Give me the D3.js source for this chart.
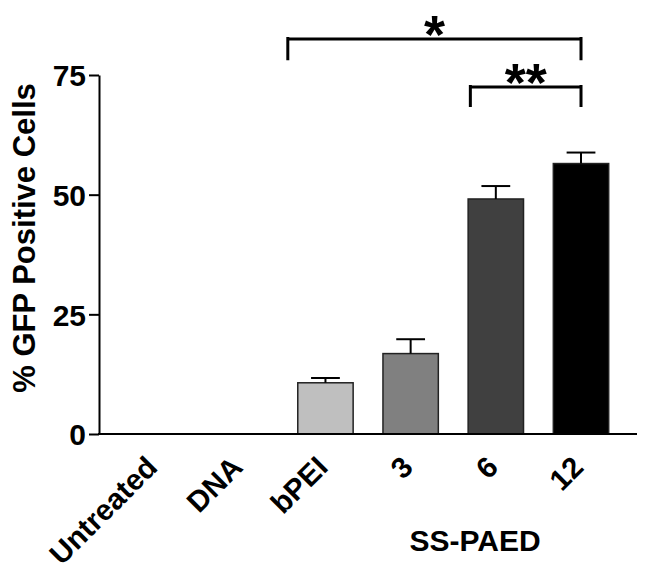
<!DOCTYPE html>
<html>
<head>
<meta charset="utf-8">
<script src="https://cdn.jsdelivr.net/npm/d3@7"></script>
<style>
    html, body { margin: 0; padding: 0; background: #fff; }
    text { font-family: "Liberation Sans", Arial, sans-serif; font-weight: bold; fill: #000; }
</style>
</head>
<body>
<div id="chart"></div>
<script>
'use strict';

const categories = ['Untreated', 'DNA', 'bPEI', '3', '6', '12'];
const values = [0, 0, 10.7, 16.8, 49.1, 56.5];
const errors = [0, 0, 1.0, 3.0, 2.7, 2.3];
const fills = ['#ffffff', '#ffffff', '#bfbfbf', '#808080', '#404040', '#000000'];
const yTicks = [0, 25, 50, 75];
// significance brackets: from/to category, offset as fraction of band, level on y
const brackets = [
    {from: 'bPEI', fromOff: -0.18, to: '12', toOff: 0.5, level: 82.5, drop: 4.4, label: '*'},
    {from: '6', fromOff: 0.04, to: '12', toOff: 0.5, level: 72.5, drop: 4.2, label: '**'}
];

(function(doc) {

    const width = 649;
    const height = 574;

    const svg = d3.select('#chart').append('svg')
        .attr('width', width)
        .attr('height', height);

    const x = d3.scaleBand()
        .domain(categories)
        .range([112.5, 623.6])
        .paddingInner(0.35)
        .paddingOuter(0.175);

    const y = d3.scaleLinear().domain([0, 75]).range([434, 75]);

    const data = categories.map((c, i) => ({cat: c, value: values[i], err: errors[i], fill: fills[i]}));

    // bars
    svg.selectAll('rect.bar')
        .data(data.filter((d) => d.value > 0)).enter().append('rect')
        .attr('class', 'bar')
        .attr('x', (d) => x(d.cat))
        .attr('y', (d) => y(d.value))
        .attr('width', x.bandwidth())
        .attr('height', (d) => y(0) - y(d.value))
        .attr('fill', (d) => d.fill)
        .attr('stroke', '#222')
        .attr('stroke-width', 1.5);

    // error bars (upper only)
    const errG = svg.append('g').attr('stroke', '#000').attr('stroke-width', 2);
    for (const d of data.filter((d) => d.err > 0)) {
        const cx = x(d.cat) + x.bandwidth() / 2;
        const capW = x.bandwidth() * 0.26;
        errG.append('line')
            .attr('x1', cx).attr('x2', cx)
            .attr('y1', y(d.value)).attr('y2', y(d.value + d.err));
        errG.append('line')
            .attr('x1', cx - capW).attr('x2', cx + capW)
            .attr('y1', y(d.value + d.err)).attr('y2', y(d.value + d.err));
    }

    // y axis
    const yAxis = svg.append('g')
        .attr('transform', 'translate(99, 0)')
        .call(d3.axisLeft(y).tickValues(yTicks).tickSize(10).tickPadding(3).tickSizeOuter(0));
    yAxis.select('.domain').attr('stroke-width', 2);
    yAxis.selectAll('.tick line').attr('stroke-width', 2);
    yAxis.selectAll('.tick text')
        .style('font-size', '30px')
        .style('font-family', '"Liberation Sans", Arial, sans-serif')
        .style('font-weight', 'bold')
        .attr('dy', '0.36em');

    // x axis line
    svg.append('line')
        .attr('x1', 98).attr('x2', 637)
        .attr('y1', y(0)).attr('y2', y(0))
        .attr('stroke', '#000')
        .attr('stroke-width', 2);

    // x labels
    svg.selectAll('text.xlab')
        .data(categories).enter().append('text')
        .attr('class', 'xlab')
        .attr('transform', (d) => `translate(${x(d) + x.bandwidth() / 2 + 4}, 469) rotate(-45)`)
        .attr('text-anchor', 'end')
        .style('font-size', '29.5px')
        .text((d) => d);

    svg.append('text')
        .attr('x', 475)
        .attr('y', 551)
        .attr('text-anchor', 'middle')
        .style('font-size', '30px')
        .text('SS-PAED');

    // y title
    svg.append('text')
        .attr('transform', 'translate(35, 238) rotate(-90)')
        .attr('text-anchor', 'middle')
        .style('font-size', '31px')
        .text('% GFP Positive Cells');

    // brackets
    for (const b of brackets) {
        const x1 = x(b.from) + x.bandwidth() * b.fromOff;
        const x2 = x(b.to) + x.bandwidth() * b.toOff;
        const yl = y(b.level);
        const yd = y(b.level - b.drop);
        svg.append('path')
            .attr('d', `M${x1},${yd}V${yl - 2}M${x1},${yl}H${x2}M${x2},${yl - 2}V${yd}`)
            .attr('fill', 'none')
            .attr('stroke', '#000')
            .attr('stroke-width', 3);
        svg.append('text')
            .attr('x', (x1 + x2) / 2)
            .attr('y', yl + 14)
            .attr('text-anchor', 'middle')
            .style('font-size', '54px')
            .text(b.label);
    }

}(document));
</script>
</body>
</html>
